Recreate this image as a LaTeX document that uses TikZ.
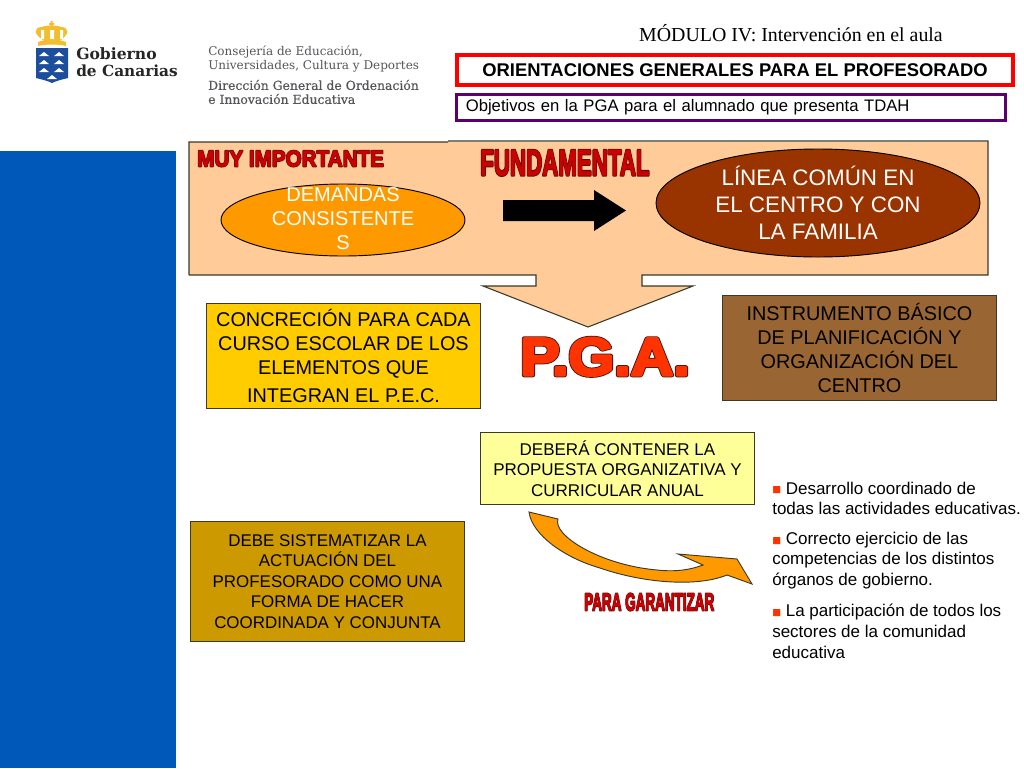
\documentclass[tikz,border=0pt]{standalone}
\usepackage{fontspec}
\usepackage{graphicx}
\setmainfont{Liberation Sans}
\newfontfamily\timesfont{Liberation Serif}
\newfontfamily\logofont{DejaVu Serif}
\newfontfamily\logoheavy[FakeBold=0.4]{DejaVu Serif}
\newfontfamily\symfont{DejaVu Sans}
\definecolor{panelpeach}{HTML}{FFCC99}
\definecolor{bluebar}{HTML}{0059B8}
\definecolor{orangefill}{HTML}{FF9900}
\definecolor{brownfill}{HTML}{993300}
\definecolor{goldfill}{HTML}{FFCC00}
\definecolor{mudfill}{HTML}{996633}
\definecolor{paleyellow}{HTML}{FFFF99}
\definecolor{ochrefill}{HTML}{CC9900}
\definecolor{outlinegray}{HTML}{3A3A2A}
\definecolor{wordred}{HTML}{CC0000}
\definecolor{wordorange}{HTML}{FF3300}
\definecolor{wordedge}{HTML}{4A1010}
\definecolor{logoblue}{HTML}{1D4E9E}
\definecolor{logogold}{HTML}{F2BE2E}
\definecolor{logogray}{HTML}{55565A}
\newcommand{\strokedtext}[3]{{\color{#2}\special{pdf:code 2 Tr 1 j #1 w}#3\special{pdf:code 0 Tr 0 j 1 w}}}
\newcommand{\wordart}[6]{\resizebox{#3}{#4}{\bfseries\makebox[0pt][l]{\strokedtext{#1}{wordedge}{#6}}\strokedtext{#2}{#5}{#6}}}
\newcommand{\redsq}{\raisebox{1pt}{\symfont\color{wordorange}\fontsize{7}{7}\selectfont ■}}
\usetikzlibrary{shapes.geometric}
\tikzset{
    box/.style={draw=outlinegray, line width=0.7pt, align=center, inner sep=0pt, anchor=north west},
    oval/.style={ellipse, draw=black, line width=0.7pt, align=center, inner sep=0pt},
    word/.style={inner sep=0pt, anchor=south west},
    listtext/.style={anchor=west, inner sep=0pt, font=\fontsize{12.75}{12.75}\selectfont},
    logotext/.style={anchor=west, inner sep=0pt, text=logogray},
    blockarrow/.style={fill=orangefill, draw=outlinegray, line width=0.7pt},
}
\begin{document}
\begin{tikzpicture}[x=0.75pt, y=-0.75pt]
    \useasboundingbox (0,0) rectangle (1024,768);
    \fill[white] (0,0) rectangle (1024,768);
    \fill[bluebar] (0,151) rectangle (176,768);

    \fill[logogold] (46,42) .. controls (32,34) and (34,27) .. (42,27) .. controls (46,25) and (57,25) .. (61,27) .. controls (69,27) and (71,34) .. (58,42) -- cycle;
    \fill[white] (41,30) rectangle (44,39) (50,30) rectangle (54,39) (60,30) rectangle (63,39);
    \fill[logogold] (38,42) .. controls (46,39) and (58,39) .. (66,42) -- (66,46) .. controls (58,44) and (46,44) .. (38,46) -- cycle;
    \fill[logogold] (50.5,21) rectangle (52.5,27) (49,23) rectangle (54,25);
    \fill[logoblue] (36,48) -- (68,48) -- (68,78) .. controls (60,80) and (56,81) .. (52,83) .. controls (48,81) and (44,80) .. (36,78) -- cycle;
    \foreach \px in {44,59} {
        \foreach \py in {56,64,72} {
            \fill[white] (\px-5,\py) -- (\px+5,\py) -- (\px,\py-4) -- cycle;
        }
    }
    \fill[white] (47,79) -- (57,79) -- (52,75) -- cycle;
    \node[logotext, font=\logofont\bfseries\fontsize{11.7}{11.7}\selectfont, text=black!85] (gobierno) at (76,54) {Gobierno};
    \node[logotext, font=\logofont\bfseries\fontsize{11.5}{11.5}\selectfont, text=black!85] (canarias) at (76,71) {de Canarias};
    \node[logotext, font=\logofont\fontsize{9}{9}\selectfont] (consejeria) at (208,52) {Consejería de Educación,};
    \node[logotext, font=\logofont\fontsize{9}{9}\selectfont] (universidades) at (208,66) {Universidades, Cultura y Deportes};
    \node[logotext, font=\logoheavy\fontsize{9.3}{9.3}\selectfont] (direccion) at (208,85) {Dirección General de Ordenación};
    \node[logotext, font=\logoheavy\fontsize{9.3}{9.3}\selectfont] (innovacion) at (208,99) {e Innovación Educativa};

    \node[font=\timesfont\fontsize{14.9}{14.9}\selectfont, inner sep=0pt] (modulo) at (791,33) {MÓDULO IV: Intervención en el aula};
    \node[draw=red, line width=3pt, minimum width=417pt, minimum height=22.5pt, inner sep=0pt, anchor=north west, font=\bfseries\fontsize{13.8}{13.8}\selectfont] (orienta) at (455,53) {ORIENTACIONES GENERALES PARA EL PROFESORADO};
    \node[draw=purple!60!blue!80!black, line width=2.2pt, minimum width=412pt, minimum height=19.5pt, inner ysep=0pt, inner xsep=7pt, text width=398pt, align=left, anchor=north west, font=\fontsize{12.5}{12.5}\selectfont] (objetivos) at (455,93) {Objetivos en la PGA para el alumnado que presenta TDAH};

    \fill[panelpeach] (189,142) rectangle (988,275) (536,275) -- (536,286) -- (483,286) -- (588,327) -- (693,286) -- (642,286) -- (642,275) -- cycle;
    \draw[outlinegray, line width=0.8pt] (189,275) -- (189,142) -- (448,142) (448,141) -- (988,141) -- (988,275) -- (642,275) -- (642,286) -- (693,286) -- (588,327) -- (483,286) -- (536,286) -- (536,275) -- (189,275);

    \node[word] (muy) at (197,167) {\wordart{0.7}{0.2}{140pt}{12pt}{wordred}{MUY IMPORTANTE}};
    \node[word] (fundamental) at (480,176) {\wordart{0.7}{0.2}{127pt}{19pt}{wordred}{FUNDAMENTAL}};
    \node[oval, fill=orangefill, minimum width=183pt, minimum height=54pt] (demandas) at (343,220) {};
    \node[align=center, text=white, inner sep=0pt, font=\fontsize{15}{18}\selectfont] (demandastext) at (343,219) {DEMANDAS\\CONSISTENTE\\S};
    \fill[black] (503,200) -- (594,200) -- (594,190) -- (626,210.5) -- (594,231) -- (594,221) -- (503,221) -- cycle;
    \node[oval, fill=brownfill, minimum width=243pt, minimum height=81pt, text=white, font=\fontsize{16.8}{20.3}\selectfont] (linea) at (818,203) {LÍNEA COMÚN EN\\EL CENTRO Y CON\\LA FAMILIA};

    \node[box, fill=goldfill, minimum width=205.5pt, minimum height=78.5pt, font=\fontsize{14.9}{18}\selectfont] (concrecion) at (206,303) {CONCRECIÓN PARA CADA\\CURSO ESCOLAR DE LOS\\ELEMENTOS QUE\\[3pt]INTEGRAN EL P.E.C.};
    \node[box, fill=mudfill, minimum width=205.5pt, minimum height=78.5pt, font=\fontsize{14.9}{18}\selectfont] (instrumento) at (722,295) {INSTRUMENTO BÁSICO\\DE PLANIFICACIÓN Y\\ORGANIZACIÓN DEL\\CENTRO};
    \node[word] (pga) at (520,376) {\wordart{0.8}{0.5}{127pt}{28pt}{wordorange}{P.G.A.}};
    \node[box, fill=paleyellow, minimum width=205.5pt, minimum height=54pt, font=\fontsize{12.75}{15.5}\selectfont] (debera) at (480,432) {DEBERÁ CONTENER LA\\PROPUESTA ORGANIZATIVA Y\\CURRICULAR ANUAL};
    \node[box, fill=ochrefill, minimum width=205.5pt, minimum height=90pt, font=\fontsize{12.7}{15.4}\selectfont] (sistematizar) at (190,521) {DEBE SISTEMATIZAR LA\\ACTUACIÓN DEL\\PROFESORADO COMO UNA\\FORMA DE HACER\\COORDINADA Y CONJUNTA};

    \draw[blockarrow] (529,512) -- (558,519) .. controls (552,535) and (600,565) .. (657,570) .. controls (675,572) and (690,570) .. (703,565) -- (678,554) -- (737,559) -- (752,584) -- (727,575) .. controls (695,588) and (640,582) .. (600,568) .. controls (565,558) and (532,535) .. (529,512) -- cycle;
    \node[word] (garantizar) at (584,611) {\wordart{0.7}{0.2}{97.5pt}{13pt}{wordred}{PARA GARANTIZAR}};

    \node[listtext] (lista1) at (772,488) {\redsq{} Desarrollo coordinado de};
    \node[listtext] (lista2) at (772,508) {todas las actividades educativas.};
    \node[listtext] (lista3) at (772,540) {\redsq{} Correcto ejercicio de las};
    \node[listtext] (lista4) at (772,560) {competencias de los distintos};
    \node[listtext] (lista5) at (772,581) {órganos de gobierno.};
    \node[listtext] (lista6) at (772,612) {\redsq{} La participación de todos los};
    \node[listtext] (lista7) at (772,631) {sectores de la comunidad};
    \node[listtext] (lista8) at (772,652) {educativa};
\end{tikzpicture}
\end{document}
